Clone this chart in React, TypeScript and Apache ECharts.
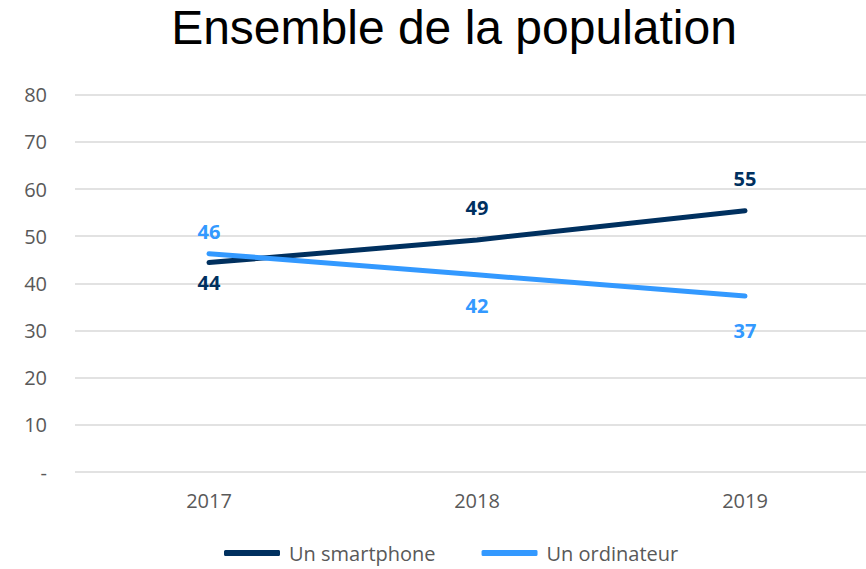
import React, { useEffect, useRef } from "react";
import * as echarts from "echarts";

const title = "Ensemble de la population";
const categories = ["2017", "2018", "2019"];
const smartphone = [44.4, 49.2, 55.4];
const ordinateur = [46.3, 41.8, 37.3];
const seriesNames = ["Un smartphone", "Un ordinateur"];
const yTicks = { min: 0, max: 80, interval: 10 };

const DARK = "#00305f";
const LIGHT = "#3399ff";
const FONT = "'Open Sans', 'Noto Sans', sans-serif";

const smartLabelPos = ["bottom", "top", "top"];
const smartLabelDist = [10, 22, 22];
const ordiLabelPos = ["top", "bottom", "bottom"];
const ordiLabelDist = [12, 21, 24];

export default function App() {
  const ref = useRef<HTMLDivElement>(null);
  useEffect(() => {
    if (!ref.current) return;
    const chart = echarts.init(ref.current, null, { renderer: "svg" });
    const mk = (vals: number[], pos: string[], dist: number[]) =>
      vals.map((v, i) => ({
        value: v,
        label: { position: pos[i], distance: dist[i] },
      }));
    const labelStyle = (color: string) => ({
      show: true,
      fontFamily: FONT,
      fontSize: 20,
      fontWeight: "bold",
      color,
      formatter: (p: any) => String(Math.round(p.value)),
    });
    chart.setOption({
      animation: false,
      title: {
        text: title,
        left: 449,
        textAlign: "center",
        top: -2,
        textStyle: {
          fontFamily: "'Liberation Sans', Arial, sans-serif",
          fontSize: 48,
          fontWeight: "normal",
          color: "#000",
        },
      },
      grid: { left: 75, top: 94.7, width: 804, height: 377.3, containLabel: false },
      legend: {
        top: 538,
        left: 219,
        itemWidth: 56,
        itemHeight: 6,
        itemGap: 46,
        icon: "roundRect",
        textStyle: { fontFamily: FONT, fontSize: 20, color: "#595959", padding: [0, 0, 0, 4] },
        data: seriesNames,
      },
      xAxis: {
        type: "category",
        data: categories,
        boundaryGap: true,
        axisLine: { show: false },
        axisTick: { show: false },
        axisLabel: { fontFamily: FONT, fontSize: 20, color: "#595959", margin: 18 },
      },
      yAxis: {
        type: "value",
        min: yTicks.min,
        max: yTicks.max,
        interval: yTicks.interval,
        axisLine: { show: false },
        axisTick: { show: false },
        splitLine: { lineStyle: { color: "#d9d9d9", width: 1.5 } },
        axisLabel: {
          fontFamily: FONT,
          fontSize: 20,
          color: "#595959",
          margin: 28,
          formatter: (v: number) => (v === 0 ? "-" : String(v)),
        },
      },
      series: [
        {
          name: seriesNames[0],
          type: "line",
          data: mk(smartphone, smartLabelPos, smartLabelDist),
          showSymbol: true,
          symbol: "circle",
          symbolSize: 0,
          lineStyle: { color: DARK, width: 5, cap: "round" },
          itemStyle: { color: DARK },
          label: labelStyle(DARK),
        },
        {
          name: seriesNames[1],
          type: "line",
          data: mk(ordinateur, ordiLabelPos, ordiLabelDist),
          showSymbol: true,
          symbol: "circle",
          symbolSize: 0,
          lineStyle: { color: LIGHT, width: 5, cap: "round" },
          itemStyle: { color: LIGHT },
          label: labelStyle(LIGHT),
        },
      ],
    });
    return () => chart.dispose();
  }, []);
  return (
    <div style={{ width: 866, height: 569, position: "absolute", left: 0, top: 0, overflow: "hidden" }}>
      <div ref={ref} style={{ width: 880, height: 569, position: "absolute", left: 0, top: 0 }} />
    </div>
  );
}
